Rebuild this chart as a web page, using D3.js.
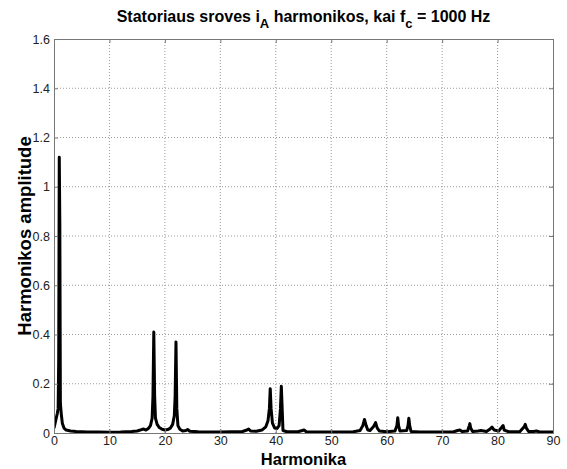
<!DOCTYPE html>
<html lang="lt">
<head>
<meta charset="utf-8">
<title>Statoriaus sroves harmonikos</title>
<script src="https://d3js.org/d3.v7.min.js"></script>
<style>
  body { margin: 0; background: #fff; font-family: "Liberation Sans", Arial, sans-serif; }
  .grid line { stroke: #9a9a9a; stroke-dasharray: 1,2; }
  .tick text { font-size: 12.5px; fill: #222; font-family: "Liberation Sans", Arial, sans-serif; }
</style>
</head>
<body>
<div id="chart"></div>
<script>
// harmonic number / amplitude
var harmonika = [0,0.2,0.4,0.6,0.75,0.85,0.95,1.05,1.15,1.3,1.5,1.8,2.2,2.6,3,4,5,6,8,10,12,14,15,15.8,16.2,16.6,17,17.4,17.7,17.85,18.0,18.15,18.3,18.6,19,19.5,20,20.5,21,21.4,21.7,21.85,22.0,22.15,22.35,22.7,23.2,23.8,24.1,24.5,26,28,30,32,34,34.8,35.1,35.5,36.5,37.5,38.2,38.6,38.85,39.0,39.15,39.4,39.8,40.2,40.6,40.85,41.0,41.15,41.3,42,44,44.8,45.1,45.5,48,50,52,54,55.2,55.7,56.0,56.3,56.6,57.0,57.6,58.0,58.3,58.7,60,61.5,61.85,62.0,62.15,62.4,63.6,63.85,64.0,64.15,64.4,66,68,70,72,72.8,73.2,73.6,74.6,74.9,75.0,75.15,75.5,76.5,77,78,78.6,79.0,79.4,80.2,80.8,81.0,81.2,82,84,84.8,85.0,85.2,85.6,86.5,87,87.5,89,90];
var amplitude = [0.02,0.04,0.06,0.08,0.1,0.3,1.12,0.85,0.12,0.08,0.04,0.02,0.012,0.01,0.008,0.006,0.005,0.004,0.004,0.003,0.004,0.006,0.008,0.014,0.016,0.012,0.018,0.03,0.06,0.15,0.41,0.15,0.06,0.035,0.022,0.015,0.012,0.014,0.02,0.035,0.07,0.15,0.37,0.1,0.03,0.015,0.008,0.01,0.014,0.007,0.005,0.004,0.004,0.005,0.006,0.012,0.016,0.008,0.007,0.012,0.025,0.05,0.1,0.18,0.1,0.04,0.02,0.018,0.03,0.1,0.19,0.1,0.01,0.005,0.005,0.01,0.012,0.005,0.004,0.004,0.004,0.005,0.01,0.03,0.055,0.03,0.012,0.01,0.025,0.042,0.02,0.008,0.005,0.008,0.03,0.062,0.03,0.008,0.01,0.03,0.06,0.03,0.006,0.004,0.004,0.004,0.004,0.01,0.012,0.006,0.008,0.03,0.038,0.02,0.006,0.008,0.01,0.006,0.015,0.024,0.012,0.008,0.025,0.03,0.012,0.005,0.005,0.025,0.035,0.02,0.006,0.006,0.008,0.005,0.004,0.004];
var xTicks = [0,10,20,30,40,50,60,70,80,90];
var yTicks = [0,0.2,0.4,0.6,0.8,1,1.2,1.4,1.6];

var W = 567, H = 469;
var m = {left: 54, right: 14, top: 39, bottom: 36};
var w = W - m.left - m.right, h = H - m.top - m.bottom;

var data = harmonika.map(function(d, i){ return [d, amplitude[i]]; });

var xScale = d3.scaleLinear().domain([0, 90]).range([0, w]);
var yScale = d3.scaleLinear().domain([0, 1.6]).range([h, 0]);

var svg = d3.select("#chart").append("svg")
    .attr("width", W).attr("height", H);

var g = svg.append("g").attr("transform", "translate(" + m.left + "," + m.top + ")");

// grid
g.append("g").attr("class", "grid")
  .selectAll("line").data(xTicks.slice(1, -1)).enter().append("line")
  .attr("x1", function(d){ return xScale(d); }).attr("x2", function(d){ return xScale(d); })
  .attr("y1", 0).attr("y2", h);
g.append("g").attr("class", "grid")
  .selectAll("line").data(yTicks.slice(1, -1)).enter().append("line")
  .attr("x1", 0).attr("x2", w)
  .attr("y1", function(d){ return yScale(d); }).attr("y2", function(d){ return yScale(d); });

g.append("clipPath").attr("id", "clip").append("rect")
  .attr("x", 0).attr("y", 0).attr("width", w).attr("height", h);

var line = d3.line()
  .x(function(d){ return xScale(d[0]); })
  .y(function(d){ return yScale(d[1]); });

g.append("path").datum(data)
  .attr("clip-path", "url(#clip)")
  .attr("fill", "none")
  .attr("stroke", "#000")
  .attr("stroke-width", 3)
  .attr("stroke-linejoin", "round")
  .attr("d", line);

// axes
var xAxis = g.append("g").attr("transform", "translate(0," + h + ")")
  .call(d3.axisBottom(xScale).tickValues(xTicks).tickSize(-4).tickPadding(3));
var yAxis = g.append("g")
  .call(d3.axisLeft(yScale).tickValues(yTicks).tickSize(-4).tickPadding(4).tickFormat(d3.format("~g")));
g.append("g")
  .call(d3.axisTop(xScale).tickValues(xTicks).tickSize(-4).tickFormat(""));
g.append("g").attr("transform", "translate(" + w + ",0)")
  .call(d3.axisRight(yScale).tickValues(yTicks).tickSize(-4).tickFormat(""));
g.selectAll(".domain, .tick line").attr("stroke", "#777");

// labels
var title = svg.append("text")
  .attr("x", m.left + w / 2).attr("y", 22)
  .attr("text-anchor", "middle")
  .style("font-size", "16px").style("font-weight", "bold");
title.append("tspan").text("Statoriaus sroves i");
title.append("tspan").attr("dy", 6).style("font-size", "13px").text("A");
title.append("tspan").attr("dy", -6).text(" harmonikos, kai f");
title.append("tspan").attr("dy", 6).style("font-size", "13px").text("c");
title.append("tspan").attr("dy", -6).text(" = 1000 Hz");

svg.append("text")
  .attr("x", m.left + w / 2).attr("y", 465)
  .attr("text-anchor", "middle")
  .style("font-size", "16.5px").style("font-weight", "bold")
  .text("Harmonika");

svg.append("text")
  .attr("transform", "translate(31," + (m.top + h / 2) + ") rotate(-90)")
  .attr("text-anchor", "middle")
  .style("font-size", "18.5px").style("font-weight", "bold")
  .text("Harmonikos amplitude");
</script>
</body>
</html>
